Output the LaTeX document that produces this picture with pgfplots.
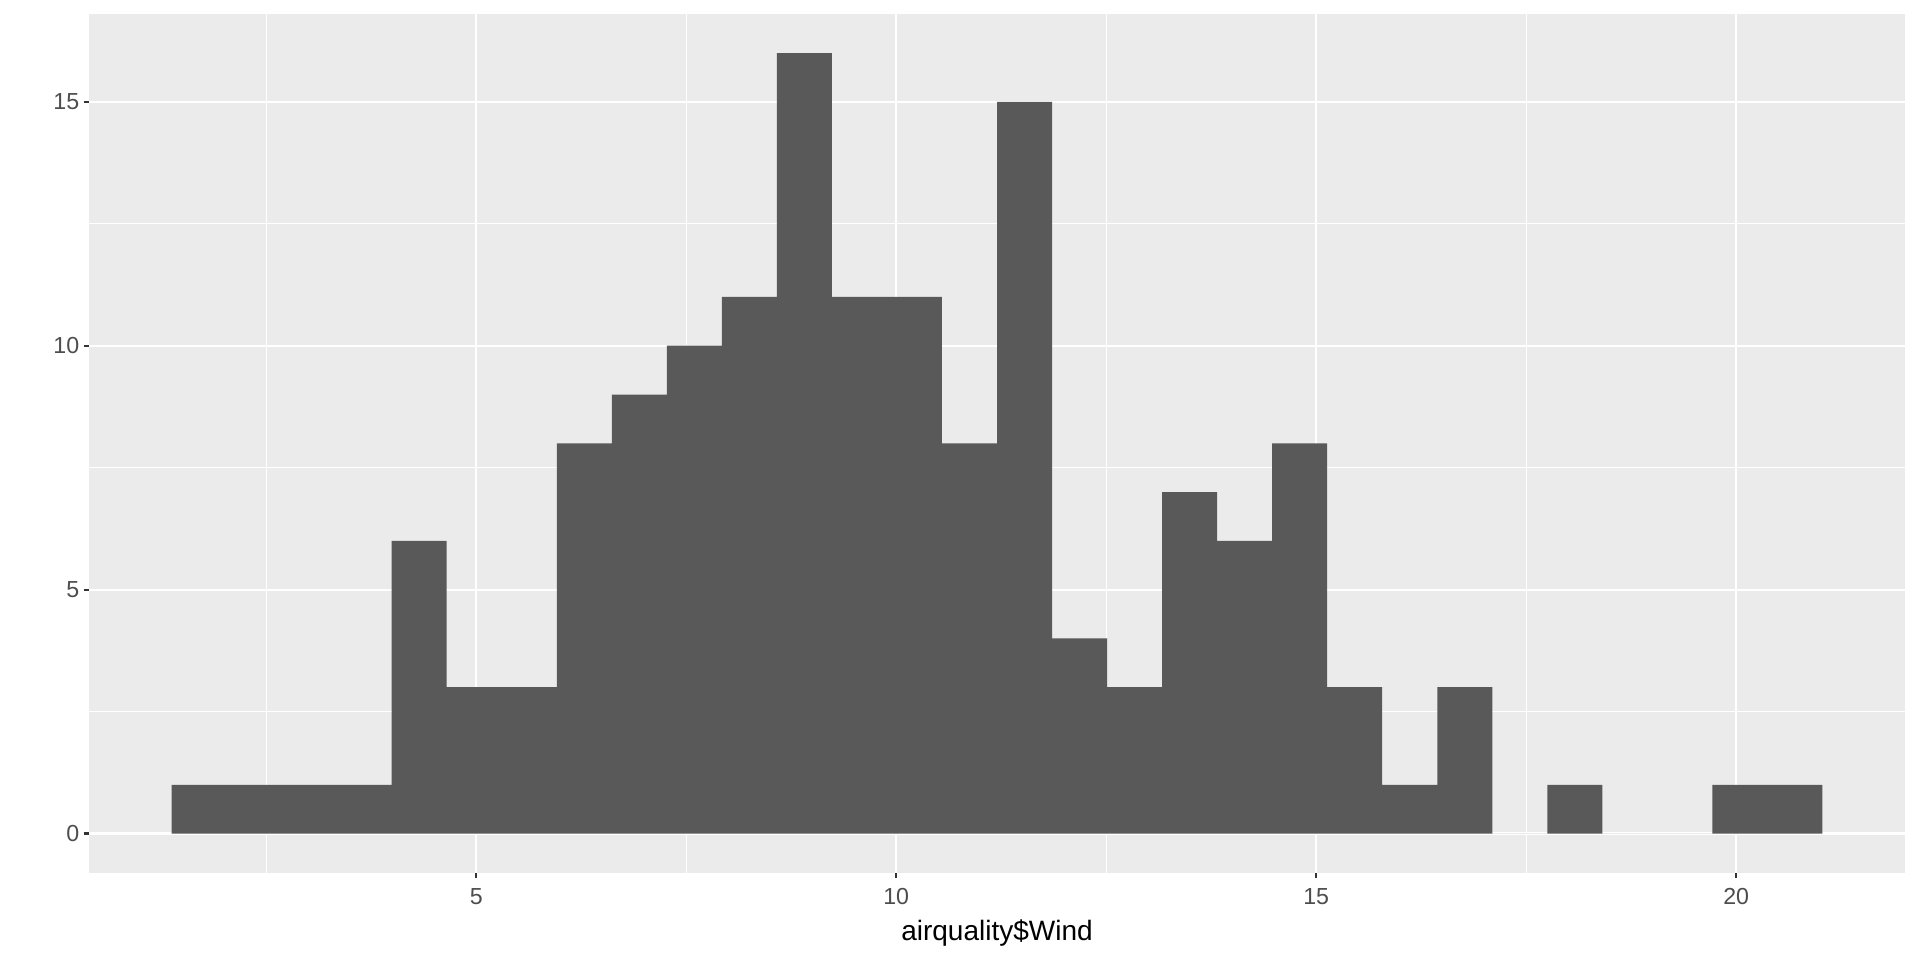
\documentclass[border=0pt]{standalone}
\usepackage{pgfplots}
\pgfplotsset{compat=1.18}
\usepackage{fontspec}
\setmainfont{Liberation Sans}
\definecolor{panelbg}{HTML}{EBEBEB}
\definecolor{barfill}{HTML}{595959}
\definecolor{tickcol}{HTML}{333333}
\definecolor{labcol}{HTML}{4D4D4D}
\pgfplotstableread{
x y
1.3724 1
2.0276 1
2.6828 1
3.3379 1
3.9931 6
4.6483 3
5.3034 3
5.9586 8
6.6138 9
7.2690 10
7.9241 11
8.5793 16
9.2345 11
9.8897 11
10.5448 8
11.2000 15
11.8552 4
12.5103 3
13.1655 7
13.8207 6
14.4759 8
15.1310 3
15.7862 1
16.4414 3
17.0966 0
17.7517 1
18.4069 0
19.0621 0
19.7172 1
20.3724 1
21.0276 1
}\windtable
\begin{document}
\begin{tikzpicture}
\path[use as bounding box] (-44.5pt,-43.7pt) rectangle (915.5pt,436.3pt);
\begin{axis}[
  at={(0pt,0pt)}, anchor=south west,
  scale only axis,
  width=908pt, height=429.3pt,
  xmin=0.3897, xmax=22.0103,
  ymin=-0.8, ymax=16.8,
  axis background/.style={fill=panelbg},
  axis line style={draw=none},
  xtick={5,10,15,20},
  ytick={0,5,10,15},
  minor xtick={2.5,7.5,12.5,17.5},
  minor ytick={2.5,7.5,12.5},
  grid=both,
  major grid style={white, line width=1.1pt},
  minor grid style={white, line width=0.55pt},
  tick align=outside,
  major tick length=2.7pt,
  minor tick length=0pt,
  tick style={tickcol, line width=1.1pt},
  xtick pos=bottom, ytick pos=left,
  /pgf/number format/assume math mode=true,
  ticklabel style={font=\fontsize{11.6}{13}\selectfont, text=labcol},
  xticklabel style={anchor=north, inner sep=0pt, yshift=-5pt},
  yticklabel style={anchor=east, inner sep=0pt, xshift=-2pt},
  xlabel={airquality\$Wind},
  xlabel style={font=\fontsize{14}{16}\selectfont, text=black, at={(axis description cs:0.5,0)}, anchor=base, yshift=-33.7pt, inner sep=0pt},
]
\addplot[ybar interval, fill=barfill, draw=none] table[x=x, y=y] {\windtable};
\end{axis}
\end{tikzpicture}
\end{document}
